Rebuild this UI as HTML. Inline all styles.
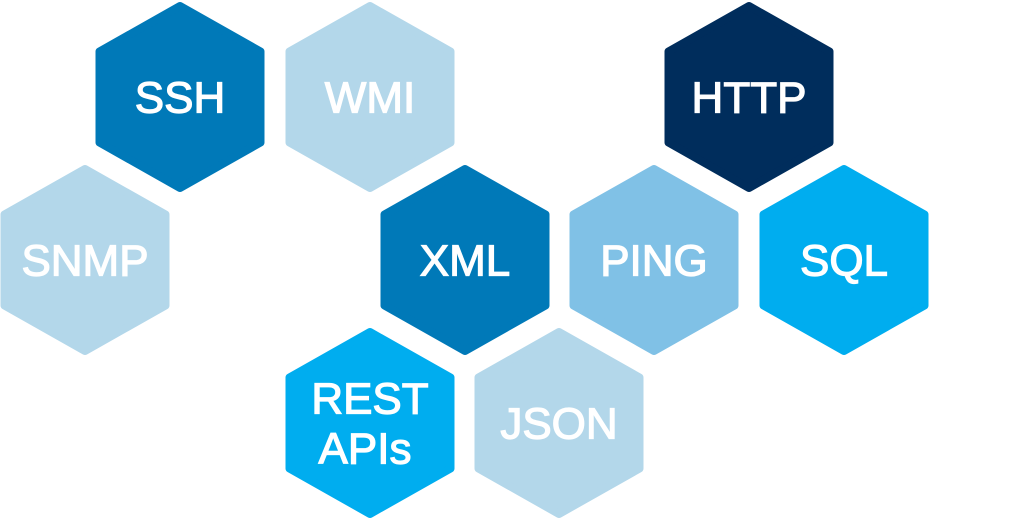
<!DOCTYPE html>
<html><head><style>
html,body{margin:0;padding:0;background:#fff;}
svg{display:block}
text{font-family:"Liberation Sans",sans-serif;font-weight:normal;font-size:44px;fill:#fff;stroke:#fff;stroke-width:1.2;text-anchor:middle;dominant-baseline:central}
</style></head><body>
<svg width="1024" height="521" viewBox="0 0 1024 521">
<defs>
<polygon id="h" points="0,-91 80.5,-45.5 80.5,45.5 0,91 -80.5,45.5 -80.5,-45.5" stroke-width="8" stroke-linejoin="round"/>
</defs>
<g>
<use href="#h" x="180" y="97" fill="#0079b8" stroke="#0079b8"/>
<use href="#h" x="370" y="97" fill="#b3d7ea" stroke="#b3d7ea"/>
<use href="#h" x="749" y="97" fill="#002d5c" stroke="#002d5c"/>
<use href="#h" x="85" y="260" fill="#b3d7ea" stroke="#b3d7ea"/>
<use href="#h" x="465" y="260" fill="#0079b8" stroke="#0079b8"/>
<use href="#h" x="654" y="260" fill="#80c1e6" stroke="#80c1e6"/>
<use href="#h" x="844" y="260" fill="#00adef" stroke="#00adef"/>
<use href="#h" x="370" y="423" fill="#00adef" stroke="#00adef"/>
<use href="#h" x="559" y="423" fill="#b3d7ea" stroke="#b3d7ea"/>
</g>
<text x="180" y="98">SSH</text>
<text x="370" y="98">WMI</text>
<text x="749" y="98">HTTP</text>
<text x="85" y="261">SNMP</text>
<text x="465" y="261">XML</text>
<text x="654" y="261">PING</text>
<text x="844" y="261">SQL</text>
<text x="370" y="399">REST</text>
<text x="365" y="449">APIs</text>
<text x="559" y="424">JSON</text>
</svg>
</body></html>
